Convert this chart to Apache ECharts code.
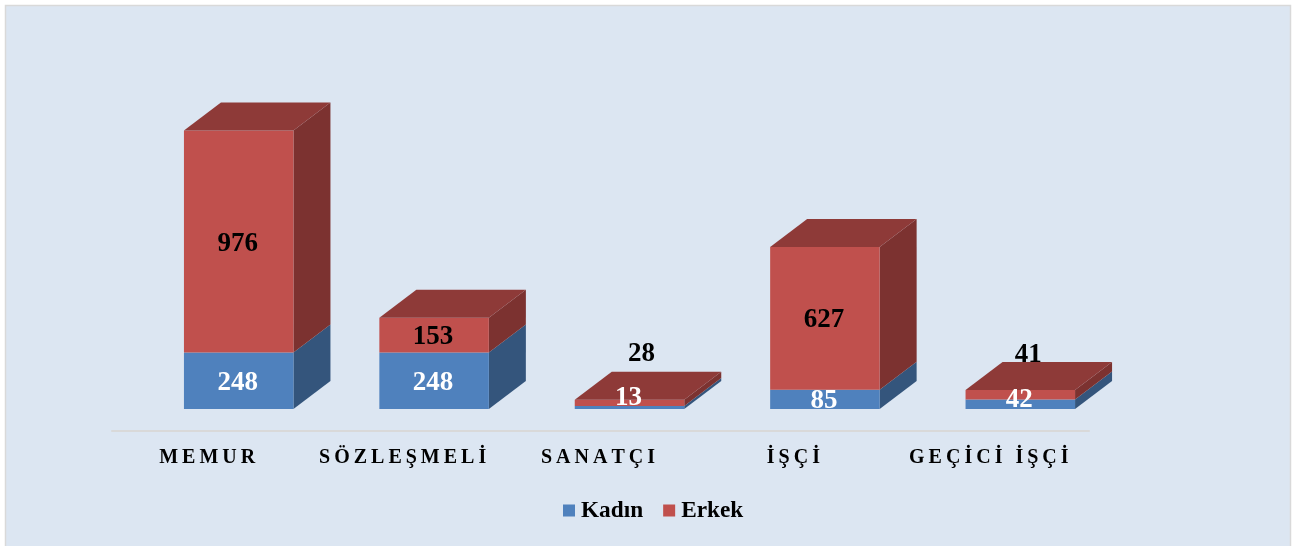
<!DOCTYPE html>
<html>
<head>
<meta charset="utf-8">
<title>Kadın Erkek</title>
<style>
  html, body { margin: 0; padding: 0; background: #fff; }
  #main { width: 1292px; height: 546px; }
</style>
<script src="https://cdn.jsdelivr.net/npm/echarts@6/dist/echarts.min.js"></script>
</head>
<body>
<div id="main"></div>
<script>
var categories = ['MEMUR', 'SÖZLEŞMELİ', 'SANATÇI', 'İŞÇİ', 'GEÇİCİ İŞÇİ'];
var kadin = [248, 248, 13, 85, 42];
var erkek = [976, 153, 28, 627, 41];

var serif = '"Liberation Serif", "Times New Roman", serif';
var barWidth = 109.5;
var barShift = 29;   // front face sits right of the band centre, the depth goes further right
var depthX = 37;
var depthY = 28;

// labels that were moved by hand in the original, px [right, up] from the middle of the segment
var kadinNudge = [[0, 0], [0, 0], [0, 11], [0, 0], [0, 6]];
var erkekNudge = [[0, 0], [0, 0], [13, 51], [0, 0], [9, 42]];

function box(colors, labelColor, nudge, drawTop) {
  return function (params, api) {
    var i = api.value(0);
    var low = api.coord([i, api.value(1)]);
    var high = api.coord([i, api.value(2)]);
    var x0 = low[0] + barShift - barWidth / 2;
    var x1 = x0 + barWidth;
    var y0 = low[1];
    var y1 = high[1];
    var children = [
      {
        type: 'polygon',
        shape: { points: [[x1, y0], [x1 + depthX, y0 - depthY], [x1 + depthX, y1 - depthY], [x1, y1]] },
        style: { fill: colors.side }
      },
      {
        type: 'rect',
        shape: { x: x0, y: y1, width: barWidth, height: y0 - y1 },
        style: { fill: colors.front }
      }
    ];
    if (drawTop) {
      children.push({
        type: 'polygon',
        shape: { points: [[x0, y1], [x1, y1], [x1 + depthX, y1 - depthY], [x0 + depthX, y1 - depthY]] },
        style: { fill: colors.top }
      });
    }
    children.push({
      type: 'text',
      z2: 100,
      style: {
        text: String(api.value(2) - api.value(1)),
        x: (x0 + x1) / 2 - 1 + nudge[i][0],
        y: (y0 + y1) / 2 + 2 - nudge[i][1],
        fill: labelColor,
        align: 'center',
        verticalAlign: 'middle',
        font: 'bold 27px ' + serif
      }
    });
    return { type: 'group', children: children };
  };
}

var kadinRows = kadin.map(function (v, i) { return [i, 0, v]; });
var erkekRows = erkek.map(function (v, i) { return [i, kadin[i], kadin[i] + v]; });

var chart = echarts.init(document.getElementById('main'));
chart.setOption({
  animation: false,
  graphic: [{
    type: 'rect',
    z: -10,
    shape: { x: 5.5, y: 5.5, width: 1285, height: 600 },
    style: { fill: '#DCE6F2', stroke: '#D9D9D9', lineWidth: 1.5 }
  }],
  grid: { left: 112, width: 977, top: 90.5, height: 318.5 },
  legend: {
    left: 563,
    top: 499,
    padding: 0,
    itemWidth: 12,
    itemHeight: 12,
    itemGap: 20,
    icon: 'rect',
    textStyle: { color: '#000', fontFamily: serif, fontWeight: 'bold', fontSize: 23.3, padding: [6, 0, 0, 1] },
    data: ['Kadın', 'Erkek']
  },
  xAxis: {
    type: 'category',
    data: categories,
    offset: 22,
    axisLine: { onZero: false, lineStyle: { color: '#D9D9D9', width: 2 } },
    axisTick: { show: false },
    axisLabel: {
      interval: 0,
      margin: 17,
      padding: [0, 5, 0, 0],
      color: '#000',
      fontFamily: serif,
      fontWeight: 'bold',
      fontSize: 20,
      // the original spaces its letters out, canvas text has no letter spacing so thin spaces do it
      formatter: function (name) { return name.split('').join('\u2009'); }
    }
  },
  yAxis: { type: 'value', min: 0, max: 1400, show: false },
  series: [
    {
      name: 'Kadın',
      type: 'custom',
      itemStyle: { color: '#4F81BD' },
      encode: { x: 0, y: [1, 2] },
      data: kadinRows,
      renderItem: box({ front: '#4F81BD', side: '#34557C' }, '#fff', kadinNudge, false)
    },
    {
      name: 'Erkek',
      type: 'custom',
      itemStyle: { color: '#C0504D' },
      encode: { x: 0, y: [1, 2] },
      data: erkekRows,
      renderItem: box({ front: '#C0504D', side: '#7C3230', top: '#8E3A38' }, '#000', erkekNudge, true)
    }
  ]
});
</script>
</body>
</html>
